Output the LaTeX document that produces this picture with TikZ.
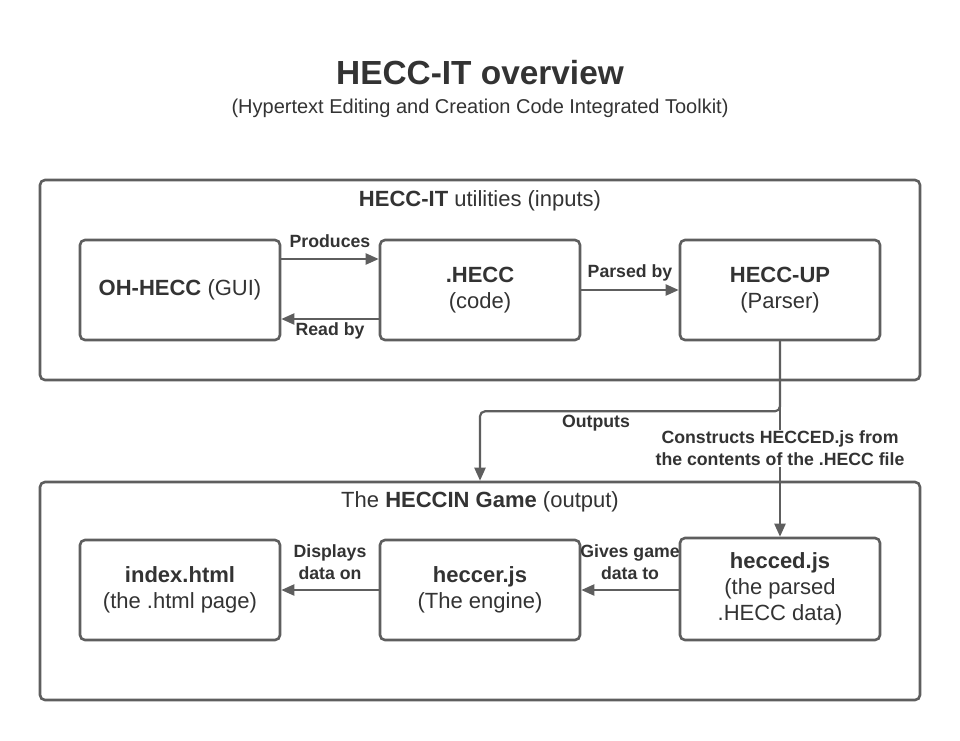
\documentclass[tikz,border=0pt]{standalone}
\usepackage{fontspec}
\setmainfont{Liberation Sans}
\usetikzlibrary{arrows.meta}
\definecolor{txt}{HTML}{333333}
\definecolor{ln}{HTML}{5E5E5E}
\tikzset{
  grp/.style={draw=ln, line width=2.6pt, rounded corners=5pt, minimum width=880pt},
  box/.style={draw=ln, line width=2.6pt, rounded corners=5pt, minimum width=200pt, minimum height=100pt,
    align=center, text=txt, font=\fontsize{22}{26}\selectfont},
  arr/.style={draw=ln, line width=2.2pt, -{Triangle[length=13pt,width=11pt]}},
  lab/.style={text=txt, font=\fontsize{17.7}{22}\selectfont\bfseries, align=center, inner sep=1pt},
  glab/.style={text=txt, font=\fontsize{22}{26}\selectfont},
}
\begin{document}
\begin{tikzpicture}[x=1pt,y=-1pt]
\useasboundingbox[fill=white] (0,0) rectangle (960,740);
\node[text=txt, font=\fontsize{33.4}{38}\selectfont\bfseries] (title) at (480,73) {HECC-IT overview};
\node[text=txt, font=\fontsize{20}{24}\selectfont] (sub) at (480,108) {(Hypertext Editing and Creation Code Integrated Toolkit)};

\node[grp, minimum height=200pt] (ing) at (480,280) {};
\node[grp, minimum height=218pt] (outg) at (480,591) {};
\node[glab] (inlab) at (480,201) {\textbf{HECC-IT} utilities (inputs)};
\node[glab] (outlab) at (480,502) {The \textbf{HECCIN Game} (output)};

\node[box] (oh) at (180,290) {\textbf{OH-HECC} (GUI)};
\node[box] (hecc) at (480,290) {\textbf{.HECC}\\(code)};
\node[box] (up) at (780,290) {\textbf{HECC-UP}\\(Parser)};

\node[box] (index) at (180,590) {\textbf{index.html}\\(the .html page)};
\node[box] (heccer) at (480,590) {\textbf{heccer.js}\\(The engine)};
\node[box, minimum height=102pt] (hecced) at (780,589) {\textbf{hecced.js}\\(the parsed\\.HECC data)};

\draw[arr] ([yshift=31pt]oh.east) -- ([yshift=31pt]hecc.west);
\node[lab] (lprod) at (330,241) {Produces};
\draw[arr] ([yshift=-29pt]hecc.west) -- ([yshift=-29pt]oh.east);
\node[lab] (lread) at (330,331) {Read by};
\draw[arr] (hecc.east) -- (up.west);
\node[lab] (lparse) at (630,273) {Parsed by};

\draw[arr, rounded corners=5pt] (up.south) -- ++(0,70) -| (outg.north);
\node[lab] (lout) at (596,423) {Outputs};
\draw[arr] (up.south) -- (hecced.north);
\node[lab, fill=white] (lcons) at (780,448) {Constructs HECCED.js from\\the contents of the .HECC file};

\draw[arr] (hecced.west |- heccer.east) -- (heccer.east);
\node[lab] (lgive) at (630,562) {Gives game\\data to};
\draw[arr] (heccer.west) -- (index.east);
\node[lab] (ldisp) at (330,562) {Displays\\data on};
\end{tikzpicture}
\end{document}
